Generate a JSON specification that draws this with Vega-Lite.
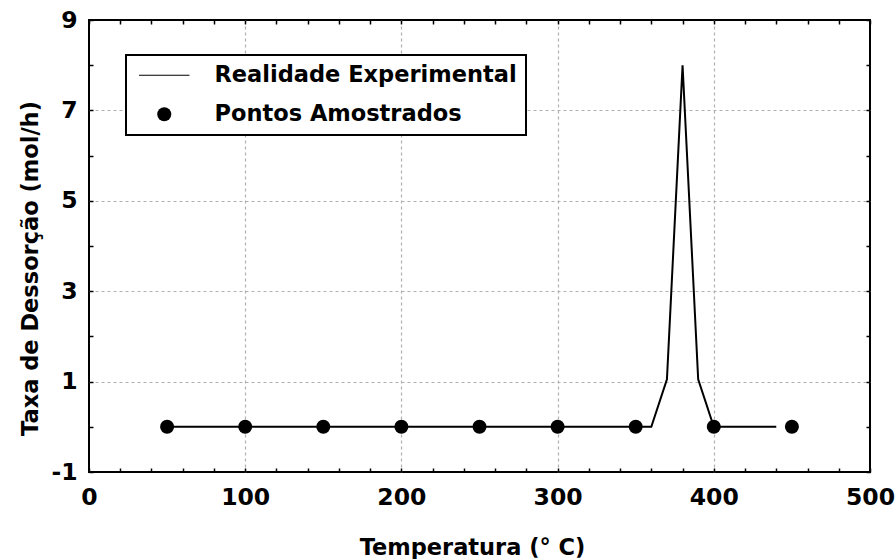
{
  "$schema": "https://vega.github.io/schema/vega-lite/v6.json",
  "width": 781,
  "height": 452,
  "autosize": "none",
  "padding": {"left": 89, "top": 20, "right": 25, "bottom": 87},
  "background": "white",
  "config": {
    "font": "DejaVu Sans",
    "view": {"stroke": "black", "strokeWidth": 2},
    "axis": {
      "domain": false,
      "labelFont": "DejaVu Sans",
      "labelFontWeight": "bold",
      "labelFontSize": 23.5,
      "labelColor": "black",
      "titleFont": "DejaVu Sans",
      "titleFontWeight": "bold",
      "titleFontSize": 22.5,
      "titleColor": "black",
      "tickColor": "black",
      "tickWidth": 1.5,
      "tickSize": -4,
      "gridColor": "#b0b0b0",
      "gridDash": [3, 3],
      "gridWidth": 1.2
    },
    "legend": {
      "labelFont": "DejaVu Sans",
      "labelFontWeight": "bold",
      "labelFontSize": 22.5,
      "labelColor": "black",
      "labelLimit": 500,
      "strokeColor": "black",
      "strokeWidth": 2,
      "fillColor": "white",
      "padding": 9,
      "symbolOffset": 18,
      "labelOffset": 39,
      "rowPadding": 16,
      "symbolStrokeColor": "black",
      "symbolStrokeWidth": 1.5,
      "symbolFillColor": "black"
    }
  },
  "datasets": {
    "curve": [
      {"t": 50, "taxa": 0}, {"t": 60, "taxa": 0}, {"t": 70, "taxa": 0}, {"t": 80, "taxa": 0},
      {"t": 90, "taxa": 0}, {"t": 100, "taxa": 0}, {"t": 110, "taxa": 0}, {"t": 120, "taxa": 0},
      {"t": 130, "taxa": 0}, {"t": 140, "taxa": 0}, {"t": 150, "taxa": 0}, {"t": 160, "taxa": 0},
      {"t": 170, "taxa": 0}, {"t": 180, "taxa": 0}, {"t": 190, "taxa": 0}, {"t": 200, "taxa": 0},
      {"t": 210, "taxa": 0}, {"t": 220, "taxa": 0}, {"t": 230, "taxa": 0}, {"t": 240, "taxa": 0},
      {"t": 250, "taxa": 0}, {"t": 260, "taxa": 0}, {"t": 270, "taxa": 0}, {"t": 280, "taxa": 0},
      {"t": 290, "taxa": 0}, {"t": 300, "taxa": 0}, {"t": 310, "taxa": 0}, {"t": 320, "taxa": 0},
      {"t": 330, "taxa": 0}, {"t": 340, "taxa": 0}, {"t": 350, "taxa": 0}, {"t": 360, "taxa": 0},
      {"t": 370, "taxa": 1.05}, {"t": 380, "taxa": 8}, {"t": 390, "taxa": 1.05}, {"t": 400, "taxa": 0},
      {"t": 410, "taxa": 0}, {"t": 420, "taxa": 0}, {"t": 430, "taxa": 0}, {"t": 440, "taxa": 0}
    ],
    "pontos": [
      {"t": 50, "taxa": 0, "serie": "Pontos Amostrados"},
      {"t": 100, "taxa": 0, "serie": "Pontos Amostrados"},
      {"t": 150, "taxa": 0, "serie": "Pontos Amostrados"},
      {"t": 200, "taxa": 0, "serie": "Pontos Amostrados"},
      {"t": 250, "taxa": 0, "serie": "Pontos Amostrados"},
      {"t": 300, "taxa": 0, "serie": "Pontos Amostrados"},
      {"t": 350, "taxa": 0, "serie": "Pontos Amostrados"},
      {"t": 400, "taxa": 0, "serie": "Pontos Amostrados"},
      {"t": 450, "taxa": 0, "serie": "Pontos Amostrados"}
    ]
  },
  "layer": [
    {
      "data": {"name": "curve"},
      "mark": {"type": "line", "color": "black", "strokeWidth": 2},
      "encoding": {
        "x": {
          "field": "t", "type": "quantitative",
          "scale": {"domain": [0, 500], "nice": false, "zero": false},
          "axis": {
            "orient": "bottom",
            "title": "Temperatura (° C)",
            "values": [0,20,40,60,80,100,120,140,160,180,200,220,240,260,280,300,320,340,360,380,400,420,440,460,480,500],
            "labelExpr": "datum.value % 100 == 0 ? datum.label : ''",
            "labelPadding": 17,
            "labelFlush": false,
            "labelOverlap": false,
            "grid": true,
            "gridOpacity": {"condition": {"test": "datum.value % 100 == 0 && datum.value > 0 && datum.value < 500", "value": 1}, "value": 0},
            "titleX": 383,
            "titleY": 82,
            "titleBaseline": "alphabetic",
            "titleAnchor": "middle",
            "titleAlign": "center"
          }
        },
        "y": {
          "field": "taxa", "type": "quantitative",
          "scale": {"domain": [-1, 9], "nice": false, "zero": false},
          "axis": {
            "orient": "left",
            "title": "Taxa de Dessorção (mol/h)",
            "values": [-1,0,1,2,3,4,5,6,7,8,9],
            "labelExpr": "datum.value % 2 != 0 ? replace(datum.label, '\u2212', '-') : ''",
            "labelPadding": 16,
            "labelFlush": false,
            "labelOverlap": false,
            "grid": true,
            "gridOpacity": {"condition": {"test": "datum.value == 1 || datum.value == 3 || datum.value == 5 || datum.value == 7", "value": 1}, "value": 0},
            "titleX": -52,
            "titleY": 248,
            "titleAngle": -90,
            "titleBaseline": "alphabetic",
            "titleAlign": "center"
          }
        }
      }
    },
    {
      "data": {"name": "pontos"},
      "mark": {"type": "point", "filled": true, "color": "black", "opacity": 1, "size": 196},
      "encoding": {
        "x": {
          "field": "t", "type": "quantitative",
          "axis": {
            "orient": "top", "title": null, "labels": false, "grid": false,
            "values": [0,20,40,60,80,100,120,140,160,180,200,220,240,260,280,300,320,340,360,380,400,420,440,460,480,500]
          }
        },
        "y": {
          "field": "taxa", "type": "quantitative",
          "axis": {
            "orient": "right", "title": null, "labels": false, "grid": false,
            "values": [-1,0,1,2,3,4,5,6,7,8,9]
          }
        },
        "shape": {
          "field": "serie", "type": "nominal",
          "scale": {"domain": ["Realidade Experimental", "Pontos Amostrados"], "range": ["M-3.6,-0.08L3.6,-0.08L3.6,0.08L-3.6,0.08Z", "circle"]},
          "legend": {
            "title": null, "orient": "none", "legendX": 37, "legendY": 35,
            "symbolSize": 196,
            "symbolStrokeColor": "black",
            "symbolFillColor": "black",
            "encode": {"symbols": {"update": {"stroke": {"value": "black"}, "strokeWidth": {"value": 0.5}, "strokeOpacity": {"value": 1}, "fill": {"value": "black"}, "fillOpacity": {"value": 1}, "opacity": {"value": 1}}}}
          }
        }
      }
    }
  ],
  "resolve": {"axis": {"x": "independent", "y": "independent"}}
}
